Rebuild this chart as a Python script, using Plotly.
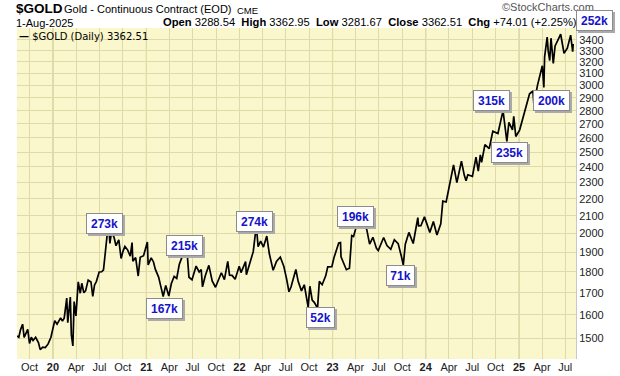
import math
import plotly.graph_objects as go

# ---------------- data ----------------
dates = [
    "2019-08-13", "2019-08-20", "2019-08-27", "2019-09-04", "2019-09-10", "2019-09-17", "2019-09-24",
    "2019-10-01", "2019-10-08", "2019-10-15", "2019-10-25", "2019-11-05", "2019-11-12", "2019-11-22",
    "2019-12-02", "2019-12-13", "2019-12-24", "2020-01-03", "2020-01-08", "2020-01-17", "2020-01-31",
    "2020-02-07", "2020-02-14", "2020-02-21", "2020-02-24", "2020-02-28", "2020-03-06", "2020-03-09",
    "2020-03-13", "2020-03-19", "2020-03-24", "2020-03-31", "2020-04-09", "2020-04-17", "2020-04-23",
    "2020-05-01", "2020-05-08", "2020-05-18", "2020-05-29", "2020-06-05", "2020-06-12", "2020-06-19",
    "2020-06-30", "2020-07-10", "2020-07-17", "2020-07-24", "2020-07-31", "2020-08-06", "2020-08-11",
    "2020-08-18", "2020-08-28", "2020-09-04", "2020-09-15", "2020-09-24", "2020-10-02", "2020-10-09",
    "2020-10-20", "2020-10-30", "2020-11-06", "2020-11-09", "2020-11-20", "2020-11-30", "2020-12-08",
    "2020-12-21", "2021-01-05", "2021-01-08", "2021-01-20", "2021-01-29", "2021-02-05", "2021-02-18",
    "2021-02-26", "2021-03-08", "2021-03-18", "2021-03-30", "2021-04-09", "2021-04-20", "2021-04-30",
    "2021-05-10", "2021-05-21", "2021-06-01", "2021-06-10", "2021-06-17", "2021-06-29", "2021-07-09",
    "2021-07-15", "2021-07-27", "2021-08-04", "2021-08-09", "2021-08-20", "2021-09-03", "2021-09-16",
    "2021-09-29", "2021-10-08", "2021-10-22", "2021-11-03", "2021-11-16", "2021-11-23", "2021-12-03",
    "2021-12-15", "2021-12-31", "2022-01-07", "2022-01-25", "2022-01-28", "2022-02-11", "2022-02-24",
    "2022-03-08", "2022-03-15", "2022-03-25", "2022-04-05", "2022-04-18", "2022-04-28", "2022-05-13",
    "2022-05-26", "2022-06-10", "2022-06-24", "2022-07-05", "2022-07-14", "2022-07-22", "2022-08-10",
    "2022-08-19", "2022-09-01", "2022-09-12", "2022-09-27", "2022-10-04", "2022-10-13", "2022-10-21",
    "2022-11-03", "2022-11-10", "2022-11-21", "2022-12-05", "2022-12-13", "2022-12-29", "2023-01-06",
    "2023-01-25", "2023-02-01", "2023-02-03", "2023-02-24", "2023-03-08", "2023-03-17", "2023-03-24",
    "2023-04-04", "2023-04-13", "2023-05-04", "2023-05-15", "2023-05-26", "2023-06-08", "2023-06-22",
    "2023-06-29", "2023-07-14", "2023-07-20", "2023-08-02", "2023-08-17", "2023-08-31", "2023-09-15",
    "2023-09-28", "2023-10-05", "2023-10-13", "2023-10-27", "2023-11-13", "2023-12-01", "2023-12-04",
    "2023-12-13", "2023-12-27", "2024-01-17", "2024-01-31", "2024-02-14", "2024-02-29", "2024-03-08",
    "2024-03-21", "2024-04-12", "2024-04-19", "2024-05-02", "2024-05-20", "2024-05-31", "2024-06-07",
    "2024-06-14", "2024-07-02", "2024-07-16", "2024-07-25", "2024-08-02", "2024-08-07", "2024-08-20",
    "2024-09-06", "2024-09-20", "2024-10-10", "2024-10-30", "2024-11-06", "2024-11-14", "2024-11-22",
    "2024-12-06", "2024-12-11", "2024-12-19", "2025-01-03", "2025-01-17", "2025-01-31", "2025-02-11",
    "2025-02-24", "2025-02-28", "2025-03-14", "2025-03-31", "2025-04-02", "2025-04-08", "2025-04-11",
    "2025-04-21", "2025-04-25", "2025-05-01", "2025-05-06", "2025-05-15", "2025-05-22", "2025-06-02",
    "2025-06-13", "2025-06-26", "2025-07-09", "2025-07-22", "2025-07-30", "2025-08-01",
]
prices = [
    1510, 1505, 1537, 1560, 1505, 1520, 1538,
    1480, 1505, 1492, 1505, 1483, 1455, 1465,
    1463, 1478, 1505, 1552, 1575, 1560, 1587,
    1573, 1586, 1648, 1676, 1566, 1672, 1680,
    1516, 1470, 1660, 1596, 1752, 1698, 1745,
    1700, 1710, 1760, 1751, 1683, 1737, 1753,
    1800, 1801, 1810, 1897, 1985, 2069, 1946,
    2013, 1975, 1934, 1966, 1868, 1907, 1930,
    1911, 1879, 1951, 1854, 1872, 1780, 1874,
    1882, 1954, 1835, 1871, 1850, 1814, 1775,
    1734, 1683, 1735, 1685, 1744, 1778, 1768,
    1837, 1876, 1905, 1896, 1774, 1762, 1810,
    1829, 1800, 1812, 1728, 1781, 1833, 1756,
    1726, 1757, 1796, 1763, 1853, 1784, 1783,
    1764, 1828, 1797, 1852, 1786, 1842, 1903,
    2043, 1929, 1958, 1927, 1986, 1892, 1808,
    1853, 1875, 1827, 1764, 1705, 1727, 1812,
    1754, 1709, 1738, 1636, 1731, 1666, 1656,
    1630, 1754, 1738, 1781, 1825, 1826, 1870,
    1949, 1951, 1876, 1811, 1818, 1989, 1984,
    2038, 2055, 2055, 2021, 1943, 1979, 1920,
    1908, 1960, 1978, 1935, 1915, 1966, 1945,
    1876, 1834, 1942, 2006, 1946, 2089, 2042,
    2043, 2093, 2006, 2067, 1992, 2054, 2185,
    2180, 2374, 2413, 2299, 2438, 2347, 2311,
    2349, 2339, 2466, 2373, 2480, 2430, 2551,
    2524, 2647, 2630, 2800, 2676, 2573, 2712,
    2657, 2756, 2609, 2655, 2748, 2835, 2932,
    2955, 2848, 3001, 3150, 3166, 2983, 3245,
    3425, 3298, 3212, 3415, 3187, 3343, 3397,
    3452, 3277, 3323, 3444, 3291, 3362.51,
]

tick_dates = [
    "2019-10-01", "2020-01-01", "2020-04-01", "2020-07-01", "2020-10-01",
    "2021-01-01", "2021-04-01", "2021-07-01", "2021-10-01",
    "2022-01-01", "2022-04-01", "2022-07-01", "2022-10-01",
    "2023-01-01", "2023-04-01", "2023-07-01", "2023-10-01",
    "2024-01-01", "2024-04-01", "2024-07-01", "2024-10-01",
    "2025-01-01", "2025-04-01", "2025-07-01",
]
tick_labels = [
    "Oct", "<b>20</b>", "Apr", "Jul", "Oct",
    "<b>21</b>", "Apr", "Jul", "Oct",
    "<b>22</b>", "Apr", "Jul", "Oct",
    "<b>23</b>", "Apr", "Jul", "Oct",
    "<b>24</b>", "Apr", "Jul", "Oct",
    "<b>25</b>", "Apr", "Jul",
]
year_lines = ["2020-01-01", "2021-01-01", "2022-01-01", "2023-01-01", "2024-01-01", "2025-01-01"]
price_ticks = [1500, 1600, 1700, 1800, 1900, 2000, 2100, 2200, 2300, 2400, 2500,
               2600, 2700, 2800, 2900, 3000, 3100, 3200, 3300, 3400]

label_text = ["273k", "167k", "215k", "274k", "52k", "196k", "71k", "315k", "235k", "200k", "252k"]
label_dates = ["2020-07-22", "2021-03-15", "2021-06-01", "2022-03-02", "2022-11-16", "2023-04-02",
               "2023-09-25", "2024-09-16", "2024-11-26", "2025-05-09", "2025-07-20"]
label_prices = [2058, 1627, 1933, 2064, 1587, 2098, 1784, 2883, 2494, 2883, 3400]
label_xshift = [0, 0, 0, 0, 0, 0, 0, 0, 0, 0, 24]
label_yshift = [0, 0, 0, 0, 0, 0, 0, 0, 0, 0, 19]

# ---------------- figure ----------------
FONT = "Liberation Sans, Arial, sans-serif"
fig = go.Figure()
fig.add_trace(go.Scatter(x=dates, y=prices, mode="lines",
                         line=dict(color="black", width=1.7), showlegend=False,
                         hoverinfo="skip"))

shapes = []
for d in year_lines:
    shapes.append(dict(type="line", xref="x", yref="paper", x0=d, x1=d, y0=0, y1=1,
                       line=dict(color="#C2C08C", width=1), layer="below"))

ann = []

def hdr(text, xpix, ypix, size, color="black", family=FONT):
    ann.append(dict(x=0, y=1, xref="paper", yref="paper", xanchor="left", yanchor="middle",
                    xshift=xpix - 17, yshift=28 - ypix, text=text, showarrow=False,
                    font=dict(family=family, size=size, color=color)))

hdr("<b>$GOLD</b>", 14, 8, 13.5)
hdr("Gold - Continuous Contract (EOD)", 62, 9, 11)
hdr("CME", 235, 10, 9.5)
hdr("1-Aug-2025", 14, 23, 11)
hdr("<b>Open</b> 3288.54  <b>High</b> 3362.95  <b>Low</b> 3281.67  <b>Close</b> 3362.51  "
    "<b>Chg</b> +74.01 (+2.25%)", 161, 22, 11.2)
hdr("\u00a9StockCharts.com", 500, 7, 11, color="#555555")
hdr("<b>\u2014</b> $GOLD (Daily) 3362.51", 17, 36, 10, family="DejaVu Sans, Verdana, sans-serif")

# label boxes (shadow then box) drawn last so they sit on top
for t, d, p, xs, ys in zip(label_text, label_dates, label_prices, label_xshift, label_yshift):
    w = 8 * len(t) - 1
    ann.append(dict(x=d, y=math.log10(p), xref="x", yref="y", text="&nbsp;",
                    showarrow=False, width=w, height=15,
                    bgcolor="#AAAAAA", bordercolor="#AAAAAA", borderwidth=1, borderpad=2,
                    xshift=xs + 2, yshift=ys - 2))
    ann.append(dict(x=d, y=math.log10(p), xref="x", yref="y", text="<b>%s</b>" % t,
                    showarrow=False, width=w, height=15,
                    font=dict(family=FONT, size=12, color="#1414C8"),
                    bgcolor="white", bordercolor="#8C8C8C", borderwidth=1, borderpad=2,
                    xshift=xs, yshift=ys))

fig.update_layout(
    width=620, height=376,
    margin=dict(l=17, r=44, t=28, b=17, autoexpand=False),
    paper_bgcolor="white", plot_bgcolor="#FAF7CC",
    shapes=shapes, annotations=ann,
    xaxis=dict(range=["2019-08-13", "2025-08-12"], tickvals=tick_dates, ticktext=tick_labels,
               showgrid=True, gridcolor="#DEDBA8", gridwidth=1, ticks="", zeroline=False,
               automargin=False,
               tickfont=dict(family=FONT, size=11, color="#222222"), showline=False),
    yaxis=dict(type="log", side="right", range=[3.1517, 3.5455], tickvals=price_ticks,
               ticktext=[str(v) for v in price_ticks], showgrid=True, gridcolor="#DEDBA8",
               gridwidth=1, ticks="", showline=True, linecolor="#C8C8C8", linewidth=1,
               automargin=False,
               tickfont=dict(family=FONT, size=11, color="#222222"), zeroline=False),
)

fig.write_html("out.html", config={"displayModeBar": False},
               post_script="document.body.style.margin='0';")
